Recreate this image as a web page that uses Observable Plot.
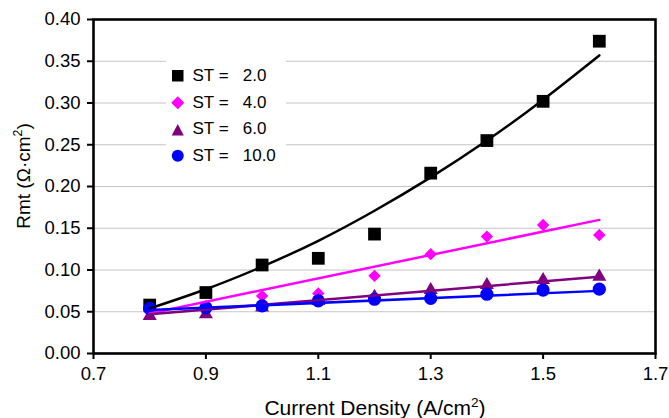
<!DOCTYPE html>
<html><head><meta charset="utf-8">
<script src="https://cdn.jsdelivr.net/npm/d3@7"></script>
<script src="https://cdn.jsdelivr.net/npm/@observablehq/plot@0.6"></script>
<style>
body{margin:0;background:#fff;font-family:"Liberation Sans",Arial,sans-serif;}
#wrap{position:relative;width:669px;height:418px;overflow:hidden;}
#legend{position:absolute;left:166px;top:57px;width:120px;height:112px;background:#fff;}
.row{position:absolute;left:0;height:20px;display:flex;align-items:center;font-size:17px;color:#000;white-space:pre;}
.row svg{margin-left:5px;margin-right:8px;}
</style></head><body><div id="wrap"></div>
<script>
const currentDensity = [0.8, 0.9, 1.0, 1.1, 1.2, 1.3, 1.4, 1.5, 1.6];
const seriesNames = ["ST =   2.0", "ST =   4.0", "ST =   6.0", "ST =   10.0"];
const st2  = [0.058, 0.073, 0.106, 0.114, 0.143, 0.216, 0.255, 0.302, 0.374];
const st4  = [0.050, 0.057, 0.069, 0.072, 0.093, 0.119, 0.140, 0.154, 0.142];
const st6  = [0.045, 0.047, 0.055, 0.063, 0.068, 0.076, 0.082, 0.088, 0.092];
const st10 = [0.054, 0.055, 0.057, 0.063, 0.065, 0.066, 0.071, 0.076, 0.077];
// trend lines
const trend2  = [0.054, 0.077, 0.104, 0.135, 0.171, 0.211, 0.255, 0.304, 0.357];
const trendX  = [0.8, 1.6];
const trend4  = [0.048, 0.160];
const trend6  = [0.047, 0.092];
const trend10 = [0.052, 0.075];
const xTicks = [0.7, 0.9, 1.1, 1.3, 1.5, 1.7];
const yTicks = [0, 0.05, 0.10, 0.15, 0.20, 0.25, 0.30, 0.35, 0.40];
const xTitle = [["Current Density (A/cm"], ["2", true], [")"]];
const yTitle = [["Rmt (Ω·cm"], ["2", true], [")"]];

const colors = ["#000000", "#ff00ff", "#800080", "#0000ff"];
const symbols = ["square", "diamond2", "triangle", "circle"];
const radii = [7.2, 5.6, 5.2, 6.6];
const values = [st2, st4, st6, st10];

const pts = values.map(v => currentDensity.map((x, i) => ({x, y: v[i]})));
const tr2 = currentDensity.map((x, i) => ({x, y: trend2[i]}));
const lin = [trend4, trend6, trend10].map(t => trendX.map((x, i) => ({x, y: t[i]})));

const marks = [
  Plot.gridY(yTicks, {stroke: "#c4c4c4", strokeOpacity: 1, strokeWidth: 1.2}),
  Plot.axisY(yTicks, {tickFormat: d3.format(".2f"), tickSize: 6, tickPadding: 7, strokeWidth: 2, fontSize: 18.5, label: null}),
  Plot.axisX(xTicks, {tickFormat: d3.format(".1f"), tickSize: 6, tickPadding: 7, strokeWidth: 2, fontSize: 18.5, label: null})
];
pts.forEach((d, k) => marks.push(Plot.dot(d, {x: "x", y: "y", symbol: () => symbols[k], r: radii[k], fill: colors[k], stroke: "none"})));
marks.push(Plot.line(tr2, {x: "x", y: "y", stroke: colors[0], strokeWidth: 2.5, curve: "natural"}));
lin.forEach((d, k) => marks.push(Plot.line(d, {x: "x", y: "y", stroke: colors[k + 1], strokeWidth: 2.5})));
marks.push(Plot.frame({stroke: "#000", strokeWidth: 2.6}));

const chart = Plot.plot({
  width: 669, height: 418,
  marginLeft: 93, marginRight: 14, marginTop: 19, marginBottom: 65,
  style: {fontFamily: "'Liberation Sans', Arial, sans-serif", fontSize: "18px", color: "#000", background: "#fff", overflow: "visible"},
  x: {domain: [0.7, 1.7]},
  y: {domain: [0, 0.4]},
  symbol: {type: "identity"},
  marks
});
document.getElementById("wrap").appendChild(chart);

// axis titles with superscripts, appended to the svg root
const NS = "http://www.w3.org/2000/svg";
function addTitle(parts, size, transform) {
  const t = document.createElementNS(NS, "text");
  t.setAttribute("font-size", size);
  t.setAttribute("fill", "#000");
  t.setAttribute("text-anchor", "middle");
  t.setAttribute("transform", transform);
  parts.forEach(([s, sup]) => {
    const ts = document.createElementNS(NS, "tspan");
    ts.textContent = s;
    if (sup) { ts.setAttribute("font-size", size * 0.65); ts.setAttribute("dy", (-size * 0.4) + "px"); }
    else if (t.childNodes.length) { ts.setAttribute("dy", (size * 0.4) + "px"); }
    t.appendChild(ts);
  });
  chart.appendChild(t);
}
addTitle(yTitle, 19, "translate(30,176) rotate(-90)");
addTitle(xTitle, 21, "translate(375,415)");

// legend
const lg = document.createElement("div");
lg.id = "legend";
const shapes = [
  '<rect x="1" y="1" width="11.5" height="11.5" fill="#000"/>',
  '<path d="M6.75 0.2 L13.3 6.75 L6.75 13.3 L0.2 6.75Z" fill="#ff00ff"/>',
  '<path d="M6.75 1 L12.8 12.5 L0.7 12.5Z" fill="#800080"/>',
  '<circle cx="6.75" cy="6.75" r="6" fill="#0000ff"/>'
];
seriesNames.forEach((name, k) => {
  const r = document.createElement("div");
  r.className = "row";
  r.style.top = (9 + k * 26.7) + "px";
  r.innerHTML = '<svg width="13.5" height="13.5">' + shapes[k] + '</svg>' + name;
  lg.appendChild(r);
});
document.getElementById("wrap").appendChild(lg);
</script>
</body></html>
